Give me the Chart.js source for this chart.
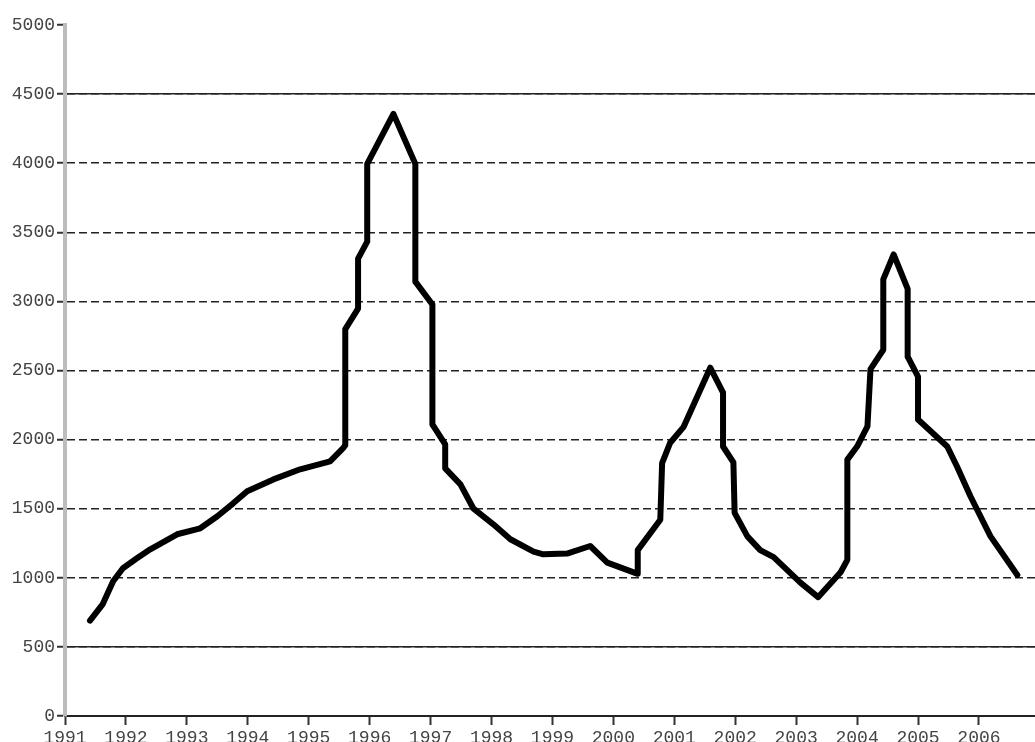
<!DOCTYPE html>
<html>
<head>
<meta charset="utf-8">
<script src="https://cdn.jsdelivr.net/npm/chart.js@4.4.0/dist/chart.umd.min.js"></script>
<style>
  html, body { margin: 0; padding: 0; background: #fff; }
  #wrap { width: 1035px; height: 742px; }
</style>
</head>
<body>
<div id="wrap"><canvas id="myChart"></canvas></div>
<script>
const years = [
  1991.41, 1991.62, 1991.79, 1991.95, 1992.18, 1992.4, 1992.84, 1993.22,
  1993.5, 1993.76, 1993.99, 1994.42, 1994.86, 1995.35, 1995.56, 1995.6,
  1995.6, 1995.81, 1995.81, 1995.96, 1995.96, 1996.39, 1996.75, 1996.75,
  1997.03, 1997.03, 1997.24, 1997.24, 1997.49, 1997.7, 1998.03, 1998.31,
  1998.69, 1998.85, 1999.24, 1999.62, 1999.9, 2000.39, 2000.4, 2000.77,
  2000.8, 2000.93, 2001.15, 2001.59, 2001.8, 2001.8, 2001.97, 2001.99,
  2002.2, 2002.41, 2002.63, 2003.07, 2003.36, 2003.73, 2003.84, 2003.84,
  2004.0, 2004.17, 2004.22, 2004.43, 2004.43, 2004.6, 2004.83, 2004.83,
  2005.0, 2005.0, 2005.48, 2005.64, 2005.86, 2006.19, 2006.63,
];
const values = [
  690, 810, 975, 1069, 1141, 1206, 1315, 1358,
  1445, 1539, 1626, 1712, 1785, 1842, 1936, 1960,
  2800, 2948, 3309, 3432, 3995, 4357, 3995, 3143,
  2977, 2110, 1965, 1792, 1676, 1503, 1387, 1279,
  1190, 1170, 1175, 1230, 1110, 1030, 1200, 1420,
  1830, 1975, 2090, 2520, 2340, 1950, 1835, 1470,
  1300, 1200, 1150, 965, 860, 1040, 1130, 1855,
  1950, 2095, 2510, 2650, 3160, 3340, 3090, 2600,
  2455, 2145, 1950, 1805, 1590, 1300, 1020,
];
const solidLines = [0, 500, 4500];

const points = years.map((x, i) => ({ x: x, y: values[i] }));
const tickFont = { family: "'Liberation Mono', monospace", size: 18 };

const chart1 = document.getElementById("myChart");
new Chart(chart1, {
  type: "line",
  data: {
    datasets: [
      {
        data: points,
        borderColor: "#000",
        borderWidth: 6,
        borderJoinStyle: "round",
        borderCapStyle: "round",
        pointRadius: 0,
        tension: 0,
        fill: false,
      },
    ],
  },
  options: {
    animation: false,
    responsive: true,
    maintainAspectRatio: false,
    layout: { padding: { top: 25, right: 0, left: 0, bottom: 0 } },
    plugins: {
      legend: { display: false },
      tooltip: { enabled: false },
    },
    scales: {
      x: {
        type: "linear",
        min: 1991,
        max: 2006.92,
        ticks: {
          stepSize: 1,
          includeBounds: false,
          autoSkip: false,
          maxRotation: 0,
          padding: 2,
          color: "#444",
          font: tickFont,
          callback: function (value) {
            return String(value);
          },
        },
        grid: {
          drawOnChartArea: false,
          tickLength: 9,
          tickColor: "#333",
          tickWidth: 2,
        },
        border: { color: "#222", width: 2 },
        afterFit: function (scale) {
          scale.height = 26;
        },
      },
      y: {
        min: 0,
        max: 5000,
        ticks: {
          stepSize: 500,
          padding: 2,
          color: "#444",
          font: tickFont,
          callback: function (value) {
            return String(value);
          },
        },
        grid: {
          color: function (ctx) {
            return ctx.tick && ctx.tick.value === 5000 ? "rgba(0,0,0,0)" : "#222";
          },
          lineWidth: 1.5,
          tickLength: 8,
          tickColor: "#333",
          tickWidth: 2,
        },
        border: { color: "#bdbdbd", width: 4, dash: [8, 4] },
        afterFit: function (scale) {
          scale.width = 65;
        },
      },
      y2: {
        position: "right",
        min: 0,
        max: 5000,
        ticks: { stepSize: 500, display: false },
        grid: {
          drawTicks: false,
          lineWidth: 1.5,
          color: function (ctx) {
            return ctx.tick && solidLines.includes(ctx.tick.value) ? "#222" : "rgba(0,0,0,0)";
          },
        },
        border: { display: false },
        afterFit: function (scale) {
          scale.width = 0;
        },
      },
    },
  },
});
</script>
</body>
</html>
